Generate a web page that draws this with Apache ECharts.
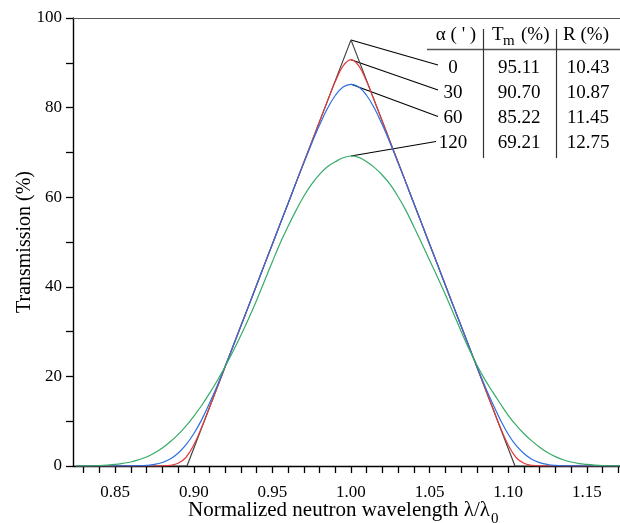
<!DOCTYPE html>
<html><head><meta charset="utf-8">
<script src="https://cdn.jsdelivr.net/npm/echarts@6/dist/echarts.min.js"></script>
<style>html,body{margin:0;padding:0;background:#fff}#c{width:620px;height:523px}</style>
</head><body><div id="c"></div>
<script>
const wavelength = [0.825,0.830,0.835,0.840,0.845,0.850,0.855,0.860,0.865,0.870,0.875,0.880,0.885,0.890,0.895,0.900,0.905,0.910,0.915,0.920,0.925,0.930,0.935,0.940,0.945,0.950,0.955,0.960,0.965,0.970,0.975,0.980,0.985,0.990,0.995,1.000,1.005,1.010,1.015,1.020,1.025,1.030,1.035,1.040,1.045,1.050,1.055,1.060,1.065,1.070,1.075,1.080,1.085,1.090,1.095,1.100,1.105,1.110,1.115,1.120,1.125,1.130,1.135,1.140,1.145,1.150,1.155,1.160,1.165,1.170,1.175];
const curve30 = [0,0,0,0,0,0,0,0,0,0,0,0.02,0.15,0.6,1.9,4.7,8.6,13.1,17.6,22.2,26.7,31.3,35.8,40.4,45.0,49.5,54.1,58.6,63.2,67.8,72.3,76.9,81.4,85.8,89.3,90.7,
  89.3,85.8,81.4,76.9,72.3,67.8,63.2,58.6,54.1,49.5,45.0,40.4,35.8,31.3,26.7,22.2,17.6,13.1,8.6,4.7,1.9,0.6,0.15,0.02,0,0,0,0,0,0,0,0,0,0,0];
const curve60 = [0,0,0,0,0,0.01,0.02,0.03,0.06,0.15,0.35,0.78,1.55,2.85,4.7,7.2,10.3,14.0,18.0,22.3,26.8,31.3,35.8,40.4,45.0,49.5,54.1,58.6,63.2,67.6,72.0,76.1,79.8,82.7,84.6,85.2,
  84.6,82.7,79.8,76.1,72.0,67.6,63.2,58.6,54.1,49.5,45.0,40.4,35.8,31.3,26.8,22.3,18.0,14.0,10.3,7.1,4.6,2.8,1.5,0.75,0.34,0.14,0.05,0.02,0.01,0,0,0,0,0,0];
const curve120 = [0.0,0.02,0.05,0.1,0.2,0.35,0.6,0.9,1.4,2.0,2.9,4.0,5.4,7.0,8.9,11.1,13.5,16.2,19.1,22.2,25.6,29.2,33.0,37.0,41.3,45.6,49.8,53.5,57.0,60.2,62.9,65.1,66.8,67.9,68.8,69.2,
  68.9,67.9,66.6,64.9,62.8,60.1,57.0,53.4,49.7,45.9,42.2,38.3,34.2,30.1,26.2,22.6,19.4,16.6,13.9,11.3,9.1,7.2,5.6,4.2,3.0,2.1,1.4,0.9,0.55,0.35,0.2,0.1,0.05,0.02,0];
const curve0X = [0.825,0.8957,1.0,1.1043,1.175];
const curve0Y = [0,0,95.11,0,0];
const xTicks = [0.83,0.84,0.85,0.86,0.87,0.88,0.89,0.90,0.91,0.92,0.93,0.94,0.95,0.96,0.97,0.98,0.99,1.00,1.01,1.02,1.03,1.04,1.05,1.06,1.07,1.08,1.09,1.10,1.11,1.12,1.13,1.14,1.15,1.16,1.17];
const xLabels = [0.85,0.90,0.95,1.00,1.05,1.10,1.15];
const yTicks = [0,10,20,30,40,50,60,70,80,90,100];
const yLabels = [0,20,40,60,80,100];
const alphaVals = ['0','30','60','120'];
const tmVals = ['95.11','90.70','85.22','69.21'];
const rVals = ['10.43','10.87','11.45','12.75'];
const peakVals = [95.11,90.70,85.22,69.21];

const FONT = '"Liberation Serif","Times New Roman",serif';
const chart = echarts.init(document.getElementById('c'), null, {renderer:'canvas'});
const zip = (xs, ys) => xs.map((x,i)=>[x, ys[i]]);
const lineS = (name, xs, ys, color, smooth) => ({
  name, type:'line', data: zip(xs, ys), showSymbol:false, smooth: smooth,
  lineStyle:{color, width:1.2}, itemStyle:{color}, animation:false, clip:true
});
chart.setOption({
  animation:false,
  grid:{left:73, top:18, right:0, bottom:57, containLabel:false},
  xAxis:[{
    type:'value', min:0.8232, max:1.1711,
    axisLine:{show:true, onZero:false, lineStyle:{color:'#000', width:1.4}},
    axisTick:{show:true, inside:false, length:7, customValues: xTicks, lineStyle:{color:'#000', width:1.3}},
    axisLabel:{show:true, customValues: xLabels, margin:18, color:'#000', fontSize:17, fontFamily:FONT,
      formatter: v => v.toFixed(2)},
    splitLine:{show:false}
  },{
    type:'value', position:'top', min:0.8232, max:1.1711,
    axisLine:{show:true, onZero:false, lineStyle:{color:'#555', width:1.1}},
    axisTick:{show:false}, axisLabel:{show:false}, splitLine:{show:false}
  }],
  yAxis:{
    type:'value', min:0, max:100,
    axisLine:{show:true, onZero:false, lineStyle:{color:'#000', width:1.4}},
    axisTick:{show:true, inside:false, length:7, customValues: yTicks, lineStyle:{color:'#000', width:1.3}},
    axisLabel:{show:true, customValues: yLabels, margin:11, color:'#000', fontSize:17, fontFamily:FONT},
    splitLine:{show:false}
  },
  series:[
    lineS('0', curve0X, curve0Y, '#444444', false),
    lineS('30', wavelength, curve30, '#e23c3c', 0.4),
    lineS('60', wavelength, curve60, '#2c6fe3', 0.4),
    lineS('120', wavelength, curve120, '#36ab68', 0.35)
  ]
});

const rowY = [68.5, 93, 118, 143];
const leadEnd = [[438,65],[438,90],[438,116.5],[436,141.5]];
const g = [];
const txt = (text, x, y, size, align) => ({
  type:'text', silent:true,
  style:{text, x, y, fill:'#000', font: size+'px '+FONT, align: align||'center', verticalAlign:'middle'}
});
peakVals.forEach((p,i)=>{
  const s = chart.convertToPixel({xAxisIndex:0, yAxisIndex:0}, [1.0, p]);
  g.push({type:'line', silent:true, shape:{x1:s[0], y1:s[1], x2:leadEnd[i][0], y2:leadEnd[i][1]},
    style:{stroke:'#000', lineWidth:1.1}});
  g.push(txt(alphaVals[i], 453, rowY[i], 19));
  g.push(txt(tmVals[i], 519, rowY[i], 19));
  g.push(txt(rVals[i], 588, rowY[i], 19));
});
// header
g.push(txt("\u03b1 ( ' )", 456, 35, 19));
g.push(txt('T', 492, 35, 19, 'left'));
g.push(txt('m', 503, 41, 15, 'left'));
g.push(txt('(%)', 521, 35, 19, 'left'));
g.push(txt('R (%)', 586, 35, 19));
g.push({type:'line', silent:true, shape:{x1:427, y1:49.5, x2:620, y2:49.5}, style:{stroke:'#555', lineWidth:1.4}});
g.push({type:'line', silent:true, shape:{x1:483.5, y1:29, x2:483.5, y2:158}, style:{stroke:'#333', lineWidth:1.2}});
g.push({type:'line', silent:true, shape:{x1:556.5, y1:29, x2:556.5, y2:158}, style:{stroke:'#333', lineWidth:1.2}});
// axis titles
g.push(txt('Normalized neutron wavelength \u03bb/\u03bb', 490, 510, 21, 'right'));
g.push(txt('0', 491, 519, 15, 'left'));
const yt = txt('Transmission (%)', 0, 0, 20, 'center');
yt.x = 25; yt.y = 242; yt.rotation = Math.PI/2;
g.push(yt);
chart.setOption({graphic: g});
</script>
</body></html>
